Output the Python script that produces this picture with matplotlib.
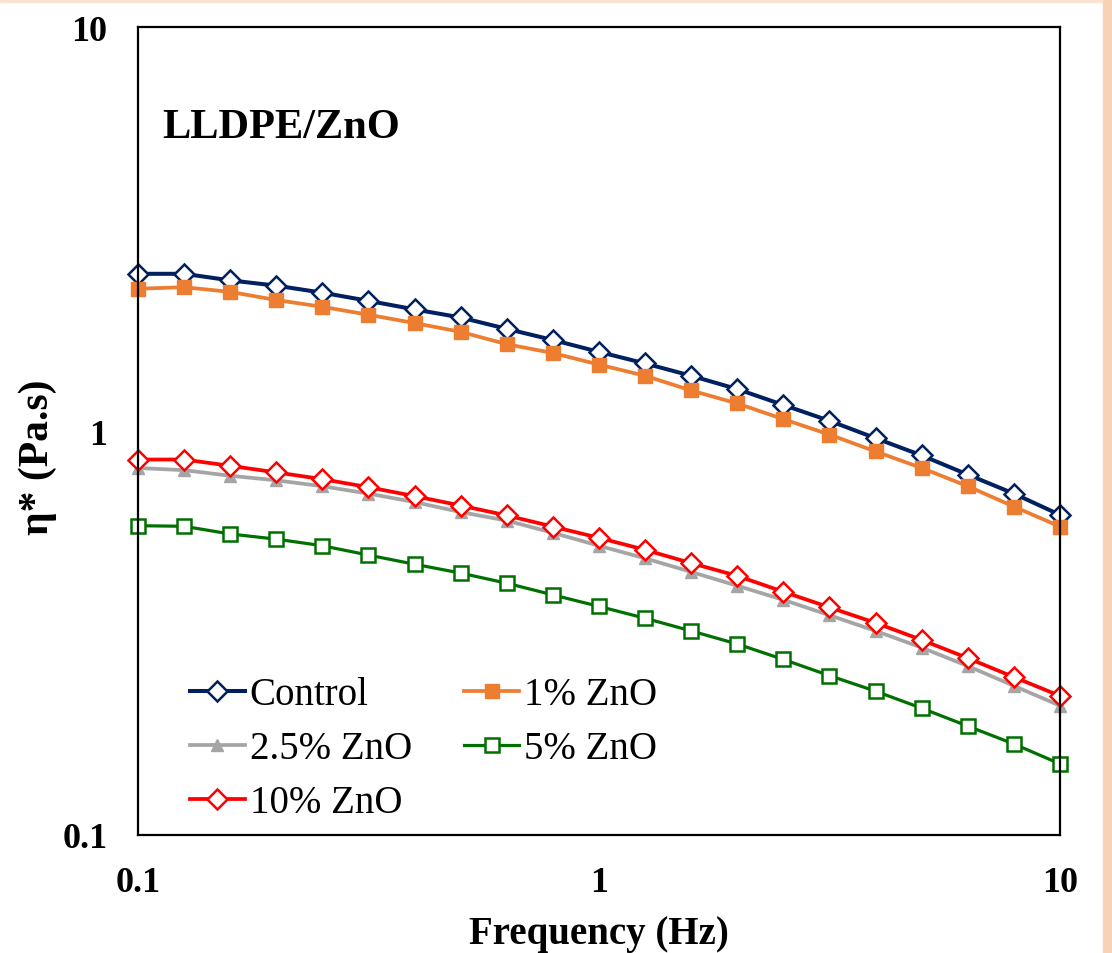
import matplotlib
matplotlib.use("Agg")
import matplotlib.pyplot as plt
from matplotlib.patches import Rectangle

freq = [0.1, 0.1259, 0.1585, 0.1995, 0.2512, 0.3162, 0.3981, 0.5012, 0.631, 0.7943,
        1.0, 1.259, 1.585, 1.995, 2.512, 3.162, 3.981, 5.012, 6.31, 7.943, 10.0]

control = [2.45, 2.45, 2.36, 2.29, 2.20, 2.10, 2.00, 1.91, 1.79, 1.68, 1.57,
           1.47, 1.37, 1.27, 1.16, 1.06, 0.96, 0.87, 0.78, 0.70, 0.62]
zno_1 = [2.25, 2.27, 2.21, 2.11, 2.03, 1.94, 1.85, 1.76, 1.64, 1.56, 1.46,
         1.37, 1.26, 1.17, 1.07, 0.98, 0.89, 0.81, 0.73, 0.65, 0.58]
zno_2_5 = [0.81, 0.80, 0.775, 0.755, 0.73, 0.70, 0.667, 0.63, 0.60, 0.56, 0.52,
           0.484, 0.448, 0.414, 0.382, 0.35, 0.32, 0.291, 0.262, 0.234, 0.209]
zno_5 = [0.583, 0.581, 0.556, 0.54, 0.52, 0.493, 0.468, 0.445, 0.42, 0.393, 0.368,
         0.344, 0.32, 0.297, 0.272, 0.248, 0.227, 0.206, 0.186, 0.168, 0.15]
zno_10 = [0.85, 0.85, 0.82, 0.79, 0.76, 0.726, 0.69, 0.654, 0.618, 0.58, 0.544,
          0.508, 0.471, 0.438, 0.40, 0.366, 0.335, 0.304, 0.274, 0.246, 0.221]

labels = ["Control", "1% ZnO", "2.5% ZnO", "5% ZnO", "10% ZnO"]
ticks = [0.1, 1, 10]
tick_labels = ["0.1", "1", "10"]

plt.rcParams['font.family'] = ['Liberation Serif', 'DejaVu Serif']

fig = plt.figure(figsize=(11.12, 9.54), dpi=100)
ax = fig.add_axes([0.1241, 0.1237, 0.8291, 0.8469])

# decorative peach border
fig.patches.append(Rectangle((0, 0.9965), 1, 0.0035, transform=fig.transFigure,
                             color='#FBE3D3', zorder=0))
fig.patches.append(Rectangle((0.992, 0), 0.008, 1, transform=fig.transFigure,
                             color='#F9D2B6', zorder=0))

h_ctrl, = ax.plot(freq, control, color='#002060', lw=2.9, marker='D', ms=10,
                  mfc='white', mec='#002060', mew=1.8, label=labels[0], clip_on=False)
h_1, = ax.plot(freq, zno_1, color='#ED7D31', lw=2.7, marker='s', ms=10,
               mfc='#ED7D31', mec='#ED7D31', label=labels[1], clip_on=False)
h_25, = ax.plot(freq, zno_2_5, color='#A5A5A5', lw=2.7, marker='^', ms=9,
                mfc='#A5A5A5', mec='#A5A5A5', label=labels[2], clip_on=False)
h_5, = ax.plot(freq, zno_5, color='#007000', lw=2.3, marker='s', ms=10,
               mfc='white', mec='#007000', mew=1.8, label=labels[3], clip_on=False)
h_10, = ax.plot(freq, zno_10, color='#FF0000', lw=2.7, marker='D', ms=10,
                mfc='white', mec='#FF0000', mew=1.8, label=labels[4], clip_on=False)

ax.set_xscale('log')
ax.set_yscale('log')
ax.set_xlim(0.1, 10)
ax.set_ylim(0.1, 10)
ax.set_xticks(ticks)
ax.set_xticklabels(tick_labels)
ax.set_yticks(ticks)
ax.set_yticklabels(tick_labels)
ax.minorticks_off()
ax.tick_params(axis='both', length=0, labelsize=26, pad=22)
for lab in ax.get_xticklabels() + ax.get_yticklabels():
    lab.set_fontweight('bold')
for sp in ax.spines.values():
    sp.set_linewidth(1.6)
    sp.set_color('black')

ax.set_xlabel("Frequency (Hz)", fontsize=28, fontweight='bold', labelpad=12)
ax.set_ylabel("η* (Pa.s)", fontsize=30, fontweight='bold')
ax.yaxis.set_label_coords(-0.088, 0.469)

ax.text(0.026, 0.864, "LLDPE/ZnO", transform=ax.transAxes, fontsize=30.5,
        fontweight='bold', ha='left', va='baseline')

leg = ax.legend([h_ctrl, h_25, h_10, h_1, h_5],
                [labels[0], labels[2], labels[4], labels[1], labels[3]],
                ncol=2, frameon=False, loc='lower left',
                bbox_to_anchor=(0.031, -0.012), fontsize=28,
                handlelength=1.41, handletextpad=0.13, columnspacing=1.34,
                labelspacing=0.44, borderaxespad=0.2)

fig.savefig("out.png", dpi=100, facecolor='white')
